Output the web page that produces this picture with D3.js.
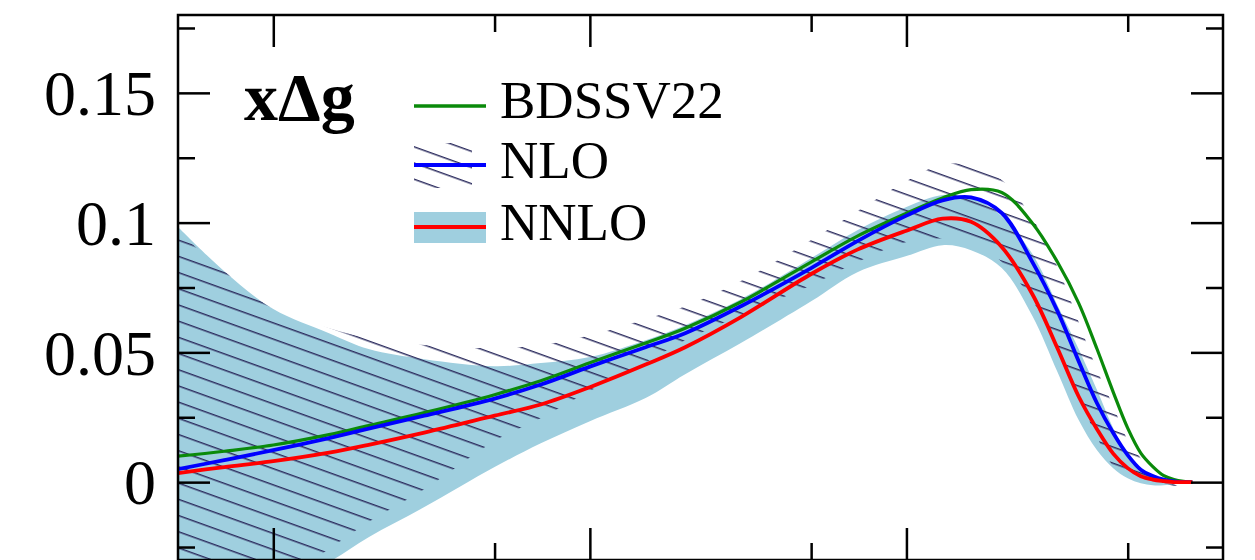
<!DOCTYPE html>
<html>
<head>
<meta charset="utf-8">
<script src="https://cdn.jsdelivr.net/npm/d3@7"></script>
<style>
  body { margin: 0; background: #fff; }
  svg { display: block; }
</style>
</head>
<body>
<div id="chart"></div>
<script>
// x grid (log scale) and curves
var xGrid = [0.0005, 0.0007, 0.001, 0.0015, 0.002, 0.003, 0.005, 0.007, 0.01, 0.015,
             0.02, 0.03, 0.05, 0.07, 0.1, 0.13, 0.16, 0.2, 0.25, 0.3,
             0.35, 0.4, 0.45, 0.5, 0.55, 0.6, 0.65, 0.7, 0.75, 0.8];

var bdssv22 = [0.0100, 0.0119, 0.0143, 0.0183, 0.0218, 0.0268, 0.0337, 0.0391, 0.0460, 0.0536,
               0.0593, 0.0694, 0.0848, 0.0948, 0.1036, 0.1095, 0.1127, 0.1116, 0.0998, 0.0848,
               0.0690, 0.0513, 0.0347, 0.0208, 0.0112, 0.0060, 0.0025, 0.0010, 0.0003, 0.0];

var nlo = [0.0050, 0.0085, 0.0123, 0.0170, 0.0206, 0.0256, 0.0322, 0.0376, 0.0445, 0.0520,
           0.0574, 0.0678, 0.0825, 0.0929, 0.1027, 0.1086, 0.1097, 0.1037, 0.0848, 0.0659,
           0.0466, 0.0304, 0.0189, 0.0104, 0.0048, 0.0024, 0.0010, 0.0003, 0.0, 0.0];
var nloHi = [0.0965, 0.0813, 0.0667, 0.0593, 0.0555, 0.0528, 0.0516, 0.0528, 0.0566, 0.0628,
             0.0678, 0.0775, 0.0933, 0.1044, 0.1160, 0.1225, 0.1218, 0.1164, 0.1017, 0.0829,
             0.0617, 0.0432, 0.0293, 0.0162, 0.0092, 0.0031, 0.0, -0.0008, -0.0004, 0.0];
var nloLo = [-0.0644, -0.0524, -0.0401, -0.0258, -0.0154, -0.0027, 0.0158, 0.0247, 0.0351, 0.0462,
             0.0547, 0.0644, 0.0759, 0.0848, 0.0925, 0.0940, 0.0940, 0.0848, 0.0701, 0.0513,
             0.0328, 0.0173, 0.0062, 0.0015, -0.0012, -0.0019, -0.0023, -0.0015, -0.0004, 0.0];

var nnlo = [0.0035, 0.0058, 0.0081, 0.0114, 0.0144, 0.0191, 0.0256, 0.0299, 0.0366, 0.0453,
            0.0520, 0.0636, 0.0802, 0.0896, 0.0969, 0.1015, 0.1003, 0.0906, 0.0724, 0.0516,
            0.0330, 0.0204, 0.0110, 0.0054, 0.0023, 0.0010, 0.0004, 0.0, 0.0, 0.0];
var nnloHi = [0.0983, 0.0813, 0.0667, 0.0574, 0.0513, 0.0474, 0.0447, 0.0459, 0.0482, 0.0547,
              0.0605, 0.0705, 0.0863, 0.0971, 0.1060, 0.1106, 0.1098, 0.1025, 0.0879, 0.0682,
              0.0513, 0.0355, 0.0208, 0.0104, 0.0039, 0.0019, 0.0008, 0.0, 0.0, 0.0];
var nnloLo = [-0.0609, -0.0513, -0.0416, -0.0308, -0.0212, -0.0096, 0.0058, 0.0150, 0.0235, 0.0324,
              0.0416, 0.0536, 0.0697, 0.0809, 0.0871, 0.0913, 0.0894, 0.0825, 0.0640, 0.0424,
              0.0239, 0.0123, 0.0054, 0.0015, -0.0004, -0.0012, -0.0012, -0.0008, -0.0004, 0.0];

// ticks
var yMajor = [0, 0.05, 0.1, 0.15];
var yMinor = [-0.025, 0.025, 0.075, 0.125, 0.175];
var xMajor = [0.001, 0.01, 0.1];
var xMinor = [0.005, 0.05, 0.5];
var legendNames = ["BDSSV22", "NLO", "NNLO"];

var svgWidth = 1255;
var svgHeight = 560;
var plot = {left: 178, right: 1223, top: 15, bottom: 560};

var svg = d3.select("#chart")
  .append("svg")
  .attr("width", svgWidth)
  .attr("height", svgHeight);

var x = d3.scaleLog().domain([0.0005, 1]).range([plot.left, plot.right]);
var y = d3.scaleLinear().domain([-0.03, 0.18]).range([plot.bottom, plot.top]);

var defs = svg.append("defs");
defs.append("clipPath").attr("id", "clip")
  .append("rect")
  .attr("x", plot.left).attr("y", plot.top)
  .attr("width", plot.right - plot.left).attr("height", plot.bottom - plot.top);

// hatch for the NLO band
var hatch = defs.append("pattern")
  .attr("id", "hatch")
  .attr("patternUnits", "userSpaceOnUse")
  .attr("width", 40)
  .attr("height", 15.24)
  .attr("patternTransform", "rotate(19.8)");
hatch.append("line")
  .attr("x1", 0).attr("x2", 40)
  .attr("y1", 13.1).attr("y2", 13.1)
  .attr("stroke", "#2d2d5f")
  .attr("stroke-width", 1.3);

var rows = xGrid.map(function(v, i) {
  return {x: v, bd: bdssv22[i], nlo: nlo[i], nloHi: nloHi[i], nloLo: nloLo[i],
          nnlo: nnlo[i], nnloHi: nnloHi[i], nnloLo: nnloLo[i]};
});

var plotArea = svg.append("g").attr("clip-path", "url(#clip)");

function band(lo, hi) {
  return d3.area()
    .x(d => x(d.x))
    .y0(d => y(d[lo]))
    .y1(d => y(d[hi]))
    .curve(d3.curveCatmullRom.alpha(0.5));
}
function curve(key) {
  return d3.line()
    .x(d => x(d.x))
    .y(d => y(d[key]))
    .curve(d3.curveCatmullRom.alpha(0.5));
}

plotArea.append("path")
  .datum(rows)
  .attr("d", band("nnloLo", "nnloHi"))
  .attr("fill", "#9fcfdf");

plotArea.append("path")
  .datum(rows)
  .attr("d", band("nloLo", "nloHi"))
  .attr("fill", "url(#hatch)");

plotArea.append("path").datum(rows).attr("d", curve("bd"))
  .attr("fill", "none").attr("stroke", "#0a8a0a").attr("stroke-width", 3.2);
plotArea.append("path").datum(rows).attr("d", curve("nlo"))
  .attr("fill", "none").attr("stroke", "#0000ff").attr("stroke-width", 3.8);
plotArea.append("path").datum(rows).attr("d", curve("nnlo"))
  .attr("fill", "none").attr("stroke", "#ff0000").attr("stroke-width", 3.8);

// axes: ticks pointing inward on all four sides
function styleAxis(g) {
  g.select(".domain").remove();
  g.selectAll(".tick line").attr("stroke", "#000").attr("stroke-width", 2.5);
}

svg.append("g").attr("transform", `translate(${plot.left},0)`)
  .call(d3.axisLeft(y).tickValues(yMajor).tickSize(-32).tickPadding(22)
        .tickFormat(d => d === 0 ? "0" : String(d)))
  .call(styleAxis)
  .call(g => g.selectAll("text")
    .attr("font-family", "'Liberation Serif', 'Times New Roman', serif")
    .attr("font-size", 64)
    .attr("fill", "#000")
    .attr("dy", "0.34em"));
svg.append("g").attr("transform", `translate(${plot.left},0)`)
  .call(d3.axisLeft(y).tickValues(yMinor).tickSize(-17).tickFormat(""))
  .call(styleAxis);
svg.append("g").attr("transform", `translate(${plot.right},0)`)
  .call(d3.axisRight(y).tickValues(yMajor).tickSize(-32).tickFormat(""))
  .call(styleAxis);
svg.append("g").attr("transform", `translate(${plot.right},0)`)
  .call(d3.axisRight(y).tickValues(yMinor).tickSize(-17).tickFormat(""))
  .call(styleAxis);
svg.append("g").attr("transform", `translate(0,${plot.top})`)
  .call(d3.axisTop(x).tickValues(xMajor).tickSize(-32).tickFormat(""))
  .call(styleAxis);
svg.append("g").attr("transform", `translate(0,${plot.top})`)
  .call(d3.axisTop(x).tickValues(xMinor).tickSize(-17).tickFormat(""))
  .call(styleAxis);
svg.append("g").attr("transform", `translate(0,${plot.bottom})`)
  .call(d3.axisBottom(x).tickValues(xMajor).tickSize(-32).tickFormat(""))
  .call(styleAxis);
svg.append("g").attr("transform", `translate(0,${plot.bottom})`)
  .call(d3.axisBottom(x).tickValues(xMinor).tickSize(-17).tickFormat(""))
  .call(styleAxis);

// frame
svg.append("rect")
  .attr("x", plot.left).attr("y", plot.top)
  .attr("width", plot.right - plot.left).attr("height", plot.bottom - plot.top)
  .attr("fill", "none").attr("stroke", "#000").attr("stroke-width", 2.5);

// panel label
svg.append("text")
  .attr("x", 244).attr("y", 120)
  .attr("font-family", "'Liberation Serif', 'Times New Roman', serif")
  .attr("font-size", 68)
  .attr("font-weight", "bold")
  .text("x\u0394g");

// legend
var legend = svg.append("g")
  .attr("font-family", "'Liberation Serif', 'Times New Roman', serif")
  .attr("font-size", 53);

legend.append("line")
  .attr("x1", 414).attr("x2", 486).attr("y1", 106).attr("y2", 106)
  .attr("stroke", "#0a8a0a").attr("stroke-width", 3.5);

legend.append("rect")
  .attr("x", 414).attr("y", 143).attr("width", 58).attr("height", 45)
  .attr("fill", "url(#hatch)");
legend.append("line")
  .attr("x1", 414).attr("x2", 486).attr("y1", 165).attr("y2", 165)
  .attr("stroke", "#0000ff").attr("stroke-width", 4);

legend.append("rect")
  .attr("x", 414).attr("y", 212).attr("width", 72).attr("height", 31)
  .attr("fill", "#9fcfdf");
legend.append("line")
  .attr("x1", 414).attr("x2", 486).attr("y1", 227).attr("y2", 227)
  .attr("stroke", "#ff0000").attr("stroke-width", 4);

legend.selectAll("text.name")
  .data(legendNames)
  .enter()
  .append("text")
  .attr("class", "name")
  .attr("x", 500)
  .attr("y", (d, i) => [118, 178, 240][i])
  .text(d => d);
</script>
</body>
</html>
